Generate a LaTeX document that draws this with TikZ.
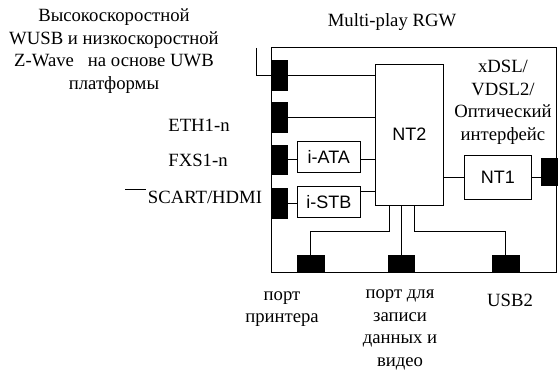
\documentclass[tikz,border=0pt]{standalone}
\usepackage{fontspec}
\setmainfont{Liberation Serif}
\newfontfamily\arialfont{Liberation Sans}
\usepackage{tikz}
\usetikzlibrary{positioning}

\begin{document}
\begin{tikzpicture}[
    x=1pt, y=-1pt,
    line width=0.7pt,
    port/.style={rectangle, draw, fill=black, minimum width=16pt, minimum height=29.5pt, inner sep=0pt},
    bport/.style={rectangle, draw, fill=black, minimum width=26.5pt, minimum height=17pt, inner sep=0pt},
    unit/.style={rectangle, draw, fill=white, inner sep=0pt, font=\arialfont\fontsize{18}{21}\selectfont},
    label/.style={align=center, inner sep=0pt, font=\fontsize{18.7}{22.5}\selectfont},
]
\useasboundingbox (0,0) rectangle (558,371);

% outer frame
\node[draw, rectangle, minimum width=285.5pt, minimum height=225pt, inner sep=0pt, line width=0.9pt] (rgw) at (413.75,159.8) {};
\node[label] (title) at (392,22) {Multi-play RGW};

% ports on the left side
\node[port] (pwusb) at (279,75.3) {};
\node[port] (peth) at (279,117.5) {};
\node[port] (pfxs) at (279,159.7) {};
\node[port] (pscart) at (279,203.3) {};

% functional blocks
\node[unit, minimum width=68pt, minimum height=141pt] (nttwo) at (409.3,134.5) {NT2};
\node[unit, minimum width=62.3pt, minimum height=31.3pt] (iata) at (328.8,156.7) {i-ATA};
\node[unit, minimum width=62.3pt, minimum height=31.6pt, below=13pt of iata] (istb) {i-STB};
\node[unit, minimum width=67.7pt, minimum height=44.3pt] (ntone) at (497.8,177.2) {NT1};
\node[port, minimum height=27.4pt] (pdsl) at (549.5,172) {};

% ports at the bottom
\node[bport] (pprn) at (310.7,263.5) {};
\node[bport] (pstore) at (401.3,263.5) {};
\node[bport] (pusb) at (505.7,263.5) {};

% labels
\node[label] (lwusb) at (114,51) {Высокоскоростной\\WUSB и низкоскоростной\\Z-Wave\ \ \ на основе UWB\\платформы};
\node[label] (leth) at (199,125) {ETH1-n};
\node[label] (lfxs) at (198,160) {FXS1-n};
\node[label] (lscart) at (205,197) {SCART/HDMI};
\node[label] (ldsl) at (503,102.5) {xDSL/\\VDSL2/\\Оптический\\интерфейс};
\node[label] (lprn) at (282,309) {порт\\принтера};
\node[label] (lstore) at (400,330) {порт для\\записи\\данных и\\видео};
\node[label] (lusb) at (510,300) {USB2};

\coordinate (wusbend) at (256,48);
\coordinate (dasha) at (125,189);
\coordinate (dashb) at (146,189);
\coordinate (stbout) at ([yshift=10pt]istb.east);

% connections
\draw (wusbend) |- (pwusb.west);
\draw (dasha) -- (dashb);
\draw (pwusb.east) -- (pwusb.east -| nttwo.west);
\draw (peth.east) -- (peth.east -| nttwo.west);
\draw (pfxs.east) -- (pfxs.east -| iata.west);
\draw (pfxs.east -| iata.east) -- (pfxs.east -| nttwo.west);
\draw (pscart.east) -- (pscart.east -| istb.west);
\draw (stbout) -- (stbout -| nttwo.west);
\draw (ntone.west) -- (ntone.west -| nttwo.east);
\draw (ntone.east) -- (ntone.east -| pdsl.west);
\draw ([xshift=-20.3pt]nttwo.south) -- ++(0,25.7) -| (pprn.north);
\draw (pstore.north |- nttwo.south) -- (pstore.north);
\draw ([xshift=5pt]nttwo.south) -- ++(0,25.7) -| (pusb.north);

\end{tikzpicture}
\end{document}
